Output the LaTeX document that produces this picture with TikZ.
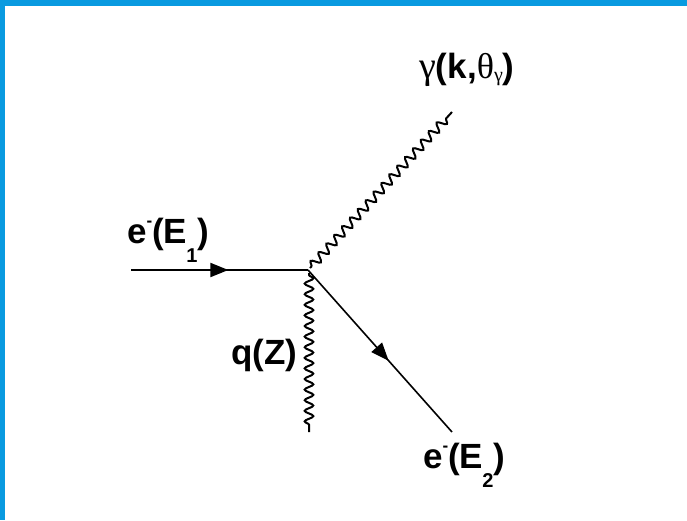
\documentclass[tikz,border=0pt]{standalone}
\usepackage{fontspec}
\setmainfont{Liberation Sans}
\newfontfamily\grk{Liberation Serif}
\usetikzlibrary{decorations.pathmorphing,decorations.markings,arrows.meta}
\definecolor{frameblue}{RGB}{9,154,224}
\newcommand{\subtxt}[1]{\kern-1pt\raisebox{-19pt}{\fontsize{20}{20}\selectfont #1}}
\newcommand{\suptxt}[1]{\raisebox{17pt}{\fontsize{17}{17}\selectfont #1}}
\tikzset{
  fermion/.style={line width=2pt, postaction={decorate},
    decoration={markings, mark=at position #1 with {\arrow{Triangle[length=18pt,width=14pt]}}}},
  photon/.style={line width=2pt, decorate,
    decoration={snake, amplitude=4.3pt, segment length=#1, pre length=2pt, post length=3pt}},
  lbl/.style={inner sep=0pt, anchor=base west, font=\fontsize{35}{35}\selectfont\bfseries},
  frame/.style={fill=frameblue, draw=none}
}
\begin{document}
\begin{tikzpicture}[x=1pt,y=-1pt]
\useasboundingbox (0,0) rectangle (687,520);
\fill[frame] (0,0) rectangle (687,6);
\fill[frame] (0,0) rectangle (5,520);

\coordinate (in) at (131,270);
\coordinate (v) at (308,270);
\coordinate (out) at (452,432);
\coordinate (gstart) at (310,268);
\coordinate (gend) at (452,112);
\coordinate (qstart) at (309,273);
\coordinate (qend) at (309,432);

\draw[fermion=0.55] (in) -- (v);
\draw[fermion=0.56, line width=1.6pt] (v) -- (out);
\draw[photon=11.7pt] (gstart) -- (gend);
\draw[photon=10.6pt] (qstart) -- (qend);

\node[lbl] (l1) at (127,243) {e\suptxt{-}(E\subtxt{1})};
\node[lbl] (l2) at (423,468) {e\suptxt{-}(E\subtxt{2})};
\node[lbl] (lq) at (231,364) {q(Z)};
\node[lbl] (lg) at (419,78) {{\fontsize{38}{38}\selectfont\grk\mdseries γ}(k,{\fontsize{36}{36}\selectfont\grk\mdseries θ}\raisebox{-3pt}{\fontsize{20}{20}\selectfont\grk\mdseries γ})};
\end{tikzpicture}
\end{document}
